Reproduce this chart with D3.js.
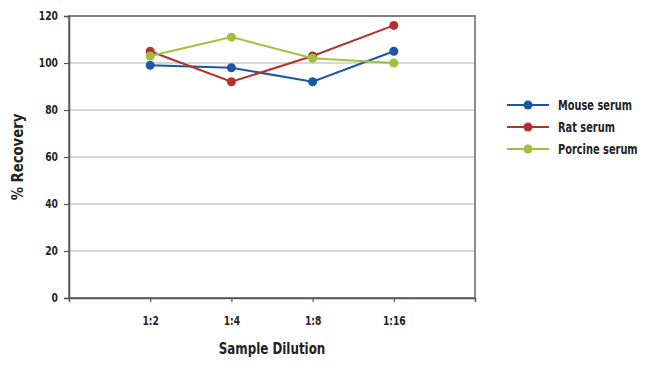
<!DOCTYPE html>
<html>
<head>
<meta charset="utf-8">
<script src="https://cdn.jsdelivr.net/npm/d3@7"></script>
<style>
  body { margin: 0; background: #fff; }
  text { font-family: "Liberation Sans Narrow", "DejaVu Sans Condensed", sans-serif; font-weight: bold; fill: #222; }
</style>
</head>
<body>
<div id="chart"></div>
<script>
// chart values
const dilutions = ["1:2", "1:4", "1:8", "1:16"];
const mouseSerum = [99, 98, 92, 105];
const ratSerum = [105, 92, 103, 116];
const porcineSerum = [103, 111, 102, 100];
const yTicks = [0, 20, 40, 60, 80, 100, 120];

const series = [
    { name: "Mouse serum", values: mouseSerum, color: "#1d56a3" },
    { name: "Rat serum", values: ratSerum, color: "#b3302c" },
    { name: "Porcine serum", values: porcineSerum, color: "#a4c03a" }
];

const width = 650, height = 371;
const margin = { top: 16, right: 175, bottom: 73, left: 69 };

const svg = d3.select("#chart").append("svg")
    .attr("width", width)
    .attr("height", height);

// narrow the text a bit, the original uses a condensed face
function squeeze(sel, k) {
    sel.each(function() {
        const len = this.getComputedTextLength();
        d3.select(this)
            .attr("textLength", len * k)
            .attr("lengthAdjust", "spacingAndGlyphs");
    });
}

// scales
const xScale = d3.scalePoint()
    .domain(dilutions)
    .range([margin.left, width - margin.right])
    .padding(1);

const yScale = d3.scaleLinear()
    .domain([0, 120])
    .range([height - margin.bottom, margin.top]);

// gridlines
svg.append("g")
    .selectAll("line")
    .data(yTicks)
    .enter().append("line")
    .attr("x1", margin.left)
    .attr("x2", width - margin.right)
    .attr("y1", d => yScale(d))
    .attr("y2", d => yScale(d))
    .attr("stroke", "#b0b0b0")
    .attr("stroke-width", 1.2);

// plot border
svg.append("rect")
    .attr("x", margin.left)
    .attr("y", margin.top)
    .attr("width", width - margin.right - margin.left)
    .attr("height", height - margin.bottom - margin.top)
    .attr("fill", "none")
    .attr("stroke", "#666")
    .attr("stroke-width", 1.5);

// y axis
const yAxis = svg.append("g")
    .attr("transform", `translate(${margin.left},0)`)
    .call(d3.axisLeft(yScale).tickValues(yTicks).tickSize(5).tickPadding(6));
yAxis.select(".domain").attr("stroke", "#555").attr("stroke-width", 1.5);
yAxis.selectAll(".tick line").attr("stroke", "#555").attr("stroke-width", 1.2);
yAxis.selectAll("text").style("font-size", "12px").attr("fill", "#222").call(squeeze, 0.85);

// x axis
const xAxis = svg.append("g")
    .attr("transform", `translate(0,${height - margin.bottom})`)
    .call(d3.axisBottom(xScale).tickSize(4).tickPadding(14));
xAxis.select(".domain").attr("stroke", "#555").attr("stroke-width", 1.5);
xAxis.selectAll(".tick line").attr("stroke", "#555").attr("stroke-width", 1.2);
xAxis.selectAll("text").style("font-size", "12px").attr("fill", "#222").call(squeeze, 0.85);

// axis titles
svg.append("text")
    .attr("x", (margin.left + width - margin.right) / 2)
    .attr("y", 354)
    .attr("text-anchor", "middle")
    .style("font-size", "15px")
    .text("Sample Dilution")
    .call(squeeze, 0.88);

svg.append("text")
    .attr("transform", "translate(23,157) rotate(-90)")
    .attr("text-anchor", "middle")
    .style("font-size", "15px")
    .text("% Recovery")
    .call(squeeze, 0.98);

// lines and points
const line = d3.line()
    .x((d, i) => xScale(dilutions[i]))
    .y(d => yScale(d));

series.forEach(s => {
    svg.append("path")
        .datum(s.values)
        .attr("fill", "none")
        .attr("stroke", s.color)
        .attr("stroke-width", 2)
        .attr("d", line);

    svg.append("g")
        .selectAll("circle")
        .data(s.values)
        .enter().append("circle")
        .attr("cx", (d, i) => xScale(dilutions[i]))
        .attr("cy", d => yScale(d))
        .attr("r", 4.5)
        .attr("fill", s.color);
});

// legend
const legend = svg.append("g")
    .attr("transform", "translate(507,105)");

series.forEach((s, i) => {
    const row = legend.append("g").attr("transform", `translate(0,${i * 22})`);
    row.append("line")
        .attr("x1", 0).attr("x2", 42)
        .attr("stroke", s.color)
        .attr("stroke-width", 2);
    row.append("circle")
        .attr("cx", 21)
        .attr("r", 4.5)
        .attr("fill", s.color);
    row.append("text")
        .attr("transform", "translate(51,0) scale(0.78,1)")
        .attr("dy", "0.35em")
        .style("font-size", "14px")
        .text(s.name);
});
</script>
</body>
</html>
